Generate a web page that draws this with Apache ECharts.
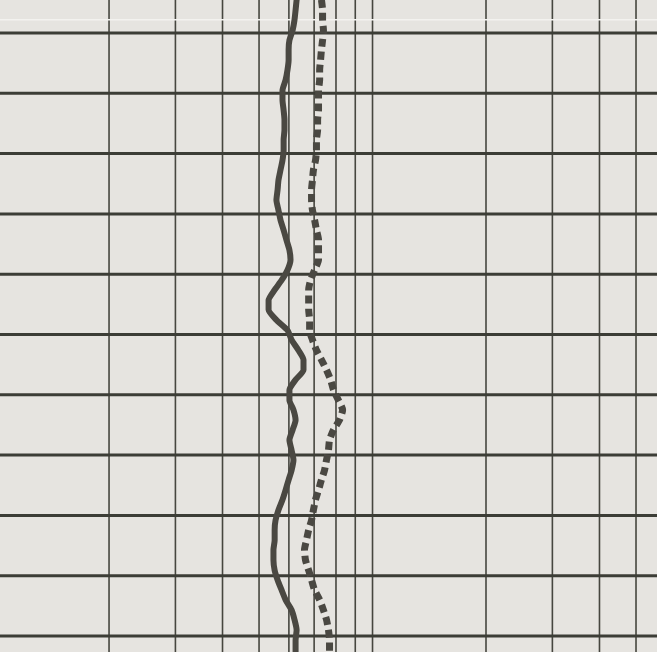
<!DOCTYPE html>
<html>
<head>
<meta charset="utf-8">
<script src="https://cdn.jsdelivr.net/npm/echarts@6/dist/echarts.min.js"></script>
<style>
html,body{margin:0;padding:0;background:#e6e4e0;}
#chart{width:657px;height:652px;}
</style>
</head>
<body>
<div id="chart"></div>
<script>
// Depth (arbitrary units; grid lines every 10 units)
const depths = [-5.5,-3.8,-2.2,-0.5,1.2,2.8,4.5,6.1,7.8,9.5,11.1,12.8,14.4,16.1,17.7,19.4,21.1,22.7,24.4,26.0,27.7,29.4,31.0,32.7,34.3,36.0,37.6,39.3,41.0,42.6,44.3,45.9,47.6,49.3,50.9,52.6,54.2,55.9,57.5,59.2,60.9,62.5,64.2,65.8,67.5,69.2,70.8,72.5,74.1,75.8,77.4,79.1,80.8,82.4,84.1,85.7,87.4,89.1,90.7,92.4,94.0,95.7,97.3,99.0,100.7,102.7];
// Solid curve values (log scale)
const solidValues = [6.29,6.25,6.21,6.14,6.02,5.99,5.99,5.95,5.88,5.77,5.77,5.81,5.84,5.84,5.81,5.81,5.77,5.70,5.63,5.60,5.56,5.63,5.70,5.81,5.91,6.02,6.06,5.95,5.74,5.50,5.30,5.30,5.56,5.95,6.10,6.36,6.56,6.56,6.25,6.02,6.02,6.17,6.25,6.14,6.02,6.10,6.17,6.10,5.99,5.88,5.77,5.63,5.53,5.50,5.50,5.46,5.46,5.50,5.60,5.74,5.88,6.10,6.21,6.29,6.25,6.25];
// Dashed curve values (log scale)
const dashedValues = [7.32,7.37,7.37,7.41,7.37,7.32,7.28,7.24,7.24,7.19,7.19,7.19,7.15,7.15,7.10,7.10,7.06,6.97,6.93,6.89,6.89,6.93,7.02,7.10,7.19,7.19,7.19,7.02,6.85,6.77,6.77,6.77,6.81,6.81,6.93,7.10,7.32,7.55,7.74,7.88,8.12,8.33,8.17,7.88,7.69,7.64,7.55,7.46,7.32,7.19,7.06,6.97,6.89,6.77,6.68,6.60,6.64,6.77,6.89,7.02,7.24,7.41,7.55,7.64,7.69,7.69];
// Grid lines
const verticalGrid = [2,3,4,5,6,7,8,9,10,20,30,40,50];
const horizontalGrid = [0,10,20,30,40,50,60,70,80,90,100];
const creaseDepth = -2.2;

const xMin = 1.0275, xMax = 56.84;
const yMin = -5.47, yMax = 102.65;

const series = [];
verticalGrid.forEach(v => {
  series.push({type:'line', silent:true, symbol:'none', z:1,
    lineStyle:{color:'#46463f', width:1.6},
    data:[[v,yMin],[v,yMax]]});
});
horizontalGrid.forEach(d => {
  series.push({type:'line', silent:true, symbol:'none', z:2,
    lineStyle:{color:'#3c3d36', width:3},
    data:[[xMin,d],[xMax,d]]});
});
series.push({type:'line', silent:true, symbol:'none', z:2,
  lineStyle:{color:'#f3f2ef', width:1.5},
  data:[[xMin,creaseDepth],[xMax,creaseDepth]]});
series.push({type:'line', symbol:'none', z:5, smooth:0.2,
  lineStyle:{color:'#4a4842', width:6, cap:'round', join:'round'},
  data: depths.map((d,i)=>[solidValues[i], d])});
series.push({type:'line', symbol:'none', z:5, smooth:0.2,
  lineStyle:{color:'#4a4842', width:7, type:[8,5], cap:'butt'},
  data: depths.map((d,i)=>[dashedValues[i], d])});

const chart = echarts.init(document.getElementById('chart'), null, {renderer:'canvas'});
chart.setOption({
  backgroundColor:'#e6e4e0',
  animation:false,
  grid:{left:0,right:0,top:0,bottom:0},
  xAxis:{type:'log', logBase:10, min:xMin, max:xMax, show:false, splitLine:{show:false}},
  yAxis:{type:'value', inverse:true, min:yMin, max:yMax, show:false, splitLine:{show:false}},
  series: series
});
</script>
</body>
</html>
